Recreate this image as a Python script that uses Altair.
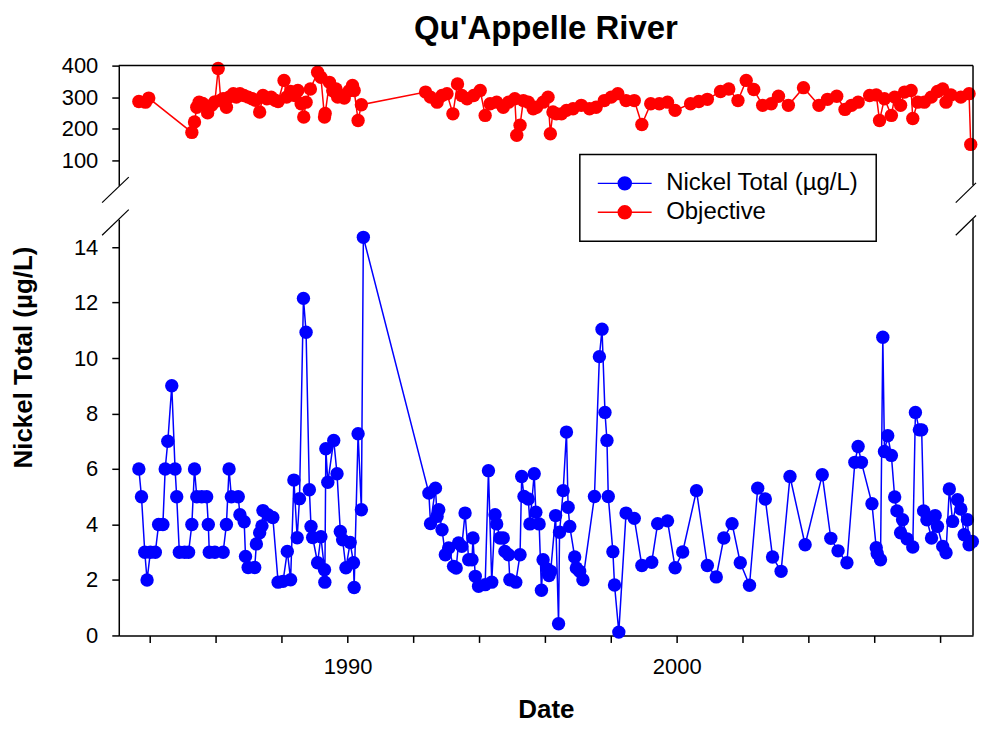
import altair as alt
import pandas as pd

# ---------------- data ----------------
nickel_year = [
    1983.66, 1983.74, 1983.84, 1983.91, 1984.01, 1984.16, 1984.26, 1984.39, 1984.46, 1984.54,
    1984.66, 1984.76, 1984.81, 1984.89, 1985.05, 1985.17, 1985.27, 1985.35, 1985.42, 1985.57,
    1985.72, 1985.77, 1985.80, 1985.97, 1986.22, 1986.32, 1986.40, 1986.47, 1986.68, 1986.73,
    1986.86, 1986.90, 1986.98, 1987.18, 1987.23, 1987.33, 1987.40, 1987.43, 1987.58, 1987.73,
    1987.89, 1988.04, 1988.17, 1988.27, 1988.37, 1988.47, 1988.54, 1988.66, 1988.74, 1988.84,
    1988.89, 1988.94, 1989.09, 1989.19, 1989.30, 1989.31, 1989.34, 1989.40, 1989.58, 1989.68,
    1989.78, 1989.85, 1989.95, 1990.08, 1990.18, 1990.20, 1990.32, 1990.42, 1990.48,
    1992.47, 1992.52, 1992.67, 1992.72, 1992.77, 1992.87, 1992.97, 1993.07, 1993.22, 1993.30,
    1993.37, 1993.47, 1993.57, 1993.68, 1993.78, 1993.81, 1993.88, 1993.98, 1994.18, 1994.28,
    1994.38, 1994.48, 1994.53, 1994.63, 1994.73, 1994.78, 1994.89, 1994.93, 1995.11, 1995.24,
    1995.29, 1995.36, 1995.49, 1995.54, 1995.67, 1995.72, 1995.82, 1995.89, 1995.94, 1996.06,
    1996.12, 1996.17, 1996.32, 1996.41, 1996.44, 1996.55, 1996.65, 1996.70, 1996.75, 1996.90,
    1996.95, 1997.05, 1997.15, 1997.50, 1997.65, 1997.73, 1997.82, 1997.88, 1997.92, 1998.06,
    1998.11, 1998.24, 1998.46, 1998.71, 1998.94, 1999.24, 1999.42, 1999.72, 1999.95, 2000.18,
    2000.60, 2000.93, 2001.20, 2001.43, 2001.68, 2001.93, 2002.21, 2002.46, 2002.69, 2002.91,
    2003.17, 2003.44, 2003.90, 2004.42, 2004.68, 2004.90, 2005.17, 2005.41, 2005.51, 2005.61,
    2005.93, 2006.06, 2006.09, 2006.19, 2006.26, 2006.31, 2006.41, 2006.52, 2006.62, 2006.69,
    2006.80, 2006.86, 2007.00, 2007.17, 2007.25, 2007.37, 2007.44, 2007.50, 2007.60, 2007.74,
    2007.85, 2007.92, 2008.08, 2008.18, 2008.28, 2008.38, 2008.53, 2008.63, 2008.73, 2008.83,
    2008.88, 2008.98,
]
nickel_value = [
    6.0, 5.0, 3.0, 2.0, 3.0, 3.0, 4.0, 4.0, 6.0, 7.0,
    9.0, 6.0, 5.0, 3.0, 3.0, 3.0, 4.0, 6.0, 5.0, 5.0,
    5.0, 4.0, 3.0, 3.0, 3.0, 4.0, 6.0, 5.0, 5.0, 4.35,
    4.1, 2.85, 2.45, 2.45, 3.3, 3.7, 3.95, 4.5, 4.35, 4.25,
    1.92, 1.95, 3.03, 2.01, 5.6, 3.52, 4.93, 12.15, 10.93, 5.25,
    3.93, 3.53, 2.62, 3.56, 2.37, 1.92, 6.73, 5.52, 7.03, 5.83,
    3.75, 3.45, 2.44, 3.35, 2.62, 1.73, 7.27, 4.53, 14.35,
    5.13, 4.03, 5.31, 4.29, 4.53, 3.81, 2.91, 3.15, 2.49, 2.43,
    3.33, 3.21, 4.41, 2.73, 2.73, 3.51, 2.13, 1.77, 1.83, 5.94,
    1.92, 4.35, 4.02, 3.51, 3.51, 3.03, 2.91, 2.01, 1.92, 2.91,
    5.73, 5.01, 4.92, 4.02, 5.83, 4.44, 4.02, 1.63, 2.73, 2.40,
    2.16, 2.31, 4.32, 0.42, 3.72, 5.22, 7.33, 4.62, 3.93, 2.83,
    2.43, 2.31, 2.01, 5.01, 10.05, 11.04, 8.04, 7.03, 5.01, 3.02,
    1.82, 0.12, 4.41, 4.22, 2.52, 2.64, 4.03, 4.13, 2.44, 3.01,
    5.22, 2.52, 2.11, 3.51, 4.03, 2.62, 1.81, 5.31, 4.92, 2.83,
    2.31, 5.73, 3.27, 5.79, 3.50, 3.05, 2.62, 6.24, 6.81, 6.24,
    4.75, 3.16, 2.95, 2.73, 10.75, 6.63, 7.20, 6.49, 4.99, 4.49,
    3.70, 4.17, 3.48, 3.19, 8.04, 7.41, 7.41, 4.49, 4.17, 3.51,
    4.32, 3.93, 3.21, 2.98, 5.28, 4.11, 4.89, 4.56, 3.63, 4.17,
    3.27, 3.39,
]

objective_year = [
    1983.66, 1983.86, 1983.96, 1985.27, 1985.35, 1985.42, 1985.49, 1985.60, 1985.75, 1985.87,
    1985.97, 1986.07, 1986.15, 1986.22, 1986.32, 1986.40, 1986.53, 1986.62, 1986.73, 1986.85,
    1986.98, 1987.10, 1987.20, 1987.33, 1987.43, 1987.55, 1987.68, 1987.80, 1987.89, 1988.07,
    1988.15, 1988.27, 1988.40, 1988.49, 1988.59, 1988.67, 1988.74, 1988.87, 1989.09, 1989.19,
    1989.30, 1989.32, 1989.45, 1989.55, 1989.65, 1989.70, 1989.80, 1989.90, 1990.05, 1990.15,
    1990.20, 1990.32, 1990.42,
    1992.37, 1992.52, 1992.72, 1992.87, 1993.02, 1993.20, 1993.34, 1993.47, 1993.63, 1993.83,
    1994.03, 1994.18, 1994.33, 1994.53, 1994.73, 1994.89, 1995.08, 1995.14, 1995.24, 1995.34,
    1995.49, 1995.64, 1995.74, 1995.94, 1996.09, 1996.16, 1996.24, 1996.34, 1996.50, 1996.65,
    1996.85, 1997.10, 1997.35, 1997.55, 1997.80, 1998.01, 1998.21, 1998.46, 1998.71, 1998.94,
    1999.21, 1999.47, 1999.72, 1999.95, 2000.42, 2000.67, 2000.93, 2001.33, 2001.58, 2001.86,
    2002.11, 2002.34, 2002.61, 2002.87, 2003.09, 2003.39, 2003.85, 2004.32, 2004.58, 2004.86,
    2005.11, 2005.31, 2005.51, 2005.86, 2006.06, 2006.16, 2006.31, 2006.52, 2006.62, 2006.80,
    2006.92, 2007.12, 2007.17, 2007.32, 2007.52, 2007.73, 2007.92, 2008.08, 2008.18, 2008.33,
    2008.63, 2008.88, 2008.93,
]
objective_value = [
    286, 284, 297, 188, 221, 268, 284, 280, 250, 274,
    285, 391, 290, 295, 268, 300, 311, 300, 311, 305,
    300, 295, 290, 253, 305, 295, 300, 290, 286, 353,
    300, 318, 305, 321, 279, 237, 284, 326, 379, 363,
    237, 248, 347, 320, 326, 300, 305, 297, 320, 337,
    321, 226, 276,
    316, 300, 284, 305, 311, 247, 342, 305, 295, 305,
    321, 242, 279, 284, 268, 284, 295, 179, 211, 289,
    284, 263, 268, 284, 300, 184, 253, 247, 247, 258,
    263, 274, 263, 268, 289, 300, 311, 289, 289, 213,
    279, 279, 284, 258, 279, 286, 293, 318, 326, 289,
    353, 324, 274, 279, 303, 274, 330, 274, 293, 303,
    261, 274, 284, 305, 307, 226, 295, 242, 300, 274,
    316, 321, 232, 284, 284, 300, 318, 326, 284, 307,
    300, 311, 150,
]

series_names = ["Nickel Total (µg/L)", "Objective"]
series_colors = ["#0000FF", "#FF0000"]
x_tick_values = [1984, 1986, 1988, 1990, 1992, 1994, 1996, 1998, 2000, 2002, 2004, 2006, 2008]
top_tick_values = [100, 200, 300, 400]
bottom_tick_values = [0, 2, 4, 6, 8, 10, 12, 14]

nickel_df = pd.DataFrame({"year": nickel_year, "value": nickel_value, "series": series_names[0]})
objective_df = pd.DataFrame({"year": objective_year, "value": objective_value, "series": series_names[1]})

# ---------------- layout / style ----------------
FONT = "Liberation Sans"
W = 856
H_TOP = 120
H_BOT = 417
X_DOMAIN = [1983.05, 2009.0]
TOP_DOMAIN = [20, 400]
BOT_DOMAIN = [0, 15]
POINT_SIZE = 180
LINE_W = 1.5

x_scale = alt.Scale(domain=X_DOMAIN, nice=False, zero=False)
top_y_scale = alt.Scale(domain=TOP_DOMAIN, nice=False, zero=False)
bot_y_scale = alt.Scale(domain=BOT_DOMAIN, nice=False, zero=False)
stroke_scale = alt.Scale(domain=series_names, range=series_colors)
fill_scale = alt.Scale(domain=series_names, range=series_colors)

legend_path = "M-1.57,0L6.14,0M1.36,0A0.93,0.93,0,1,1,3.22,0A0.93,0.93,0,1,1,1.36,0Z"
legend_def = alt.Legend(
    title=None, orient="none", legendX=462, legendY=-65,
    symbolType=legend_path, symbolSize=196, symbolStrokeWidth=1.5,
    labelFont=FONT, labelFontSize=24, labelColor="black", labelOffset=45.5, labelLimit=400,
    labelExpr="datum.label + '\u00a0'",
    padding=17, rowPadding=5, fillColor="white", strokeColor="black",
)


def frame_rule(x1, y1, x2, y2, width=1.5):
    """Decoration line given in pixels from a panel's origin (borders, axis-break slashes)."""
    return alt.Chart(alt.Data(values=[{"k": 0}])).mark_rule(color="black", strokeWidth=width).encode(
        x=alt.value(x1), y=alt.value(y1), x2=alt.value(x2), y2=alt.value(y2)
    )


# ---------------- top panel (Objective) ----------------
top_x = alt.X("year:Q", scale=x_scale, axis=alt.Axis(labels=False, ticks=False, domain=False, title=None, grid=False))
top_y = alt.Y("value:Q", scale=top_y_scale,
              axis=alt.Axis(values=top_tick_values, title=None, tickSize=7, labelPadding=14, grid=False))
top_base = alt.Chart(objective_df).encode(x=top_x, y=top_y)
top_line = top_base.mark_line(color="#FF0000", strokeWidth=LINE_W)
top_points = top_base.mark_point(filled=True, size=POINT_SIZE, opacity=1, color="#FF0000")

top_chart = alt.layer(
    top_line, top_points,
    frame_rule(0, 0, W, 0),          # top border
    frame_rule(W, 0, W, H_TOP),      # right border
).properties(
    width=W, height=H_TOP,
    title=alt.TitleParams("Qu'Appelle River", font=FONT, fontSize=33, fontWeight="bold",
                          color="black", anchor="middle", frame="group", offset=9),
)

# ---------------- bottom panel (Nickel) ----------------
bot_x = alt.X("year:Q", scale=x_scale,
              axis=alt.Axis(values=x_tick_values, format="d",
                            labelExpr="(datum.value == 1990 || datum.value == 2000) ? datum.label : ''",
                            title="Date", tickSize=7, labelPadding=14, titlePadding=19, grid=False))
bot_y = alt.Y("value:Q", scale=bot_y_scale,
              axis=alt.Axis(values=bottom_tick_values, title="Nickel Total (µg/L)", tickSize=7,
                            labelPadding=14, grid=False, titleX=-95, titleY=138, titleAngle=-90,
                            titleAlign="center", titleBaseline="middle"))
bot_base = alt.Chart(nickel_df).encode(x=bot_x, y=bot_y)
bot_line = bot_base.mark_line(strokeWidth=LINE_W).encode(
    stroke=alt.Stroke("series:N", scale=stroke_scale, legend=legend_def))
bot_points = bot_base.mark_point(filled=True, size=POINT_SIZE, opacity=1).encode(
    fill=alt.Fill("series:N", scale=fill_scale, legend=legend_def))

bot_chart = alt.layer(
    bot_line, bot_points,
    frame_rule(W, 0, W, H_BOT),                       # right border
    frame_rule(-16.7, -16.7, 10, -42.3, 1.2),         # axis-break slashes, left
    frame_rule(-16.7, 16, 10, -9.7, 1.2),
    frame_rule(W - 17.3, -16.7, W + 3, -36.5, 1.2),   # axis-break slashes, right
    frame_rule(W - 17.3, 16, W + 3, -3.8, 1.2),
).properties(width=W, height=H_BOT)

chart = (
    alt.vconcat(top_chart, bot_chart, spacing=34, bounds="flush")
    .resolve_legend(fill="independent", stroke="independent")
    .properties(padding={"left": 2, "top": 4, "right": 0, "bottom": 0})
    .configure(font=FONT)
    .configure_view(stroke=None)
    .configure_axis(labelFont=FONT, titleFont=FONT, labelFontSize=22, titleFontSize=26,
                    titleFontWeight="bold", labelColor="black", titleColor="black",
                    domainColor="black", tickColor="black", domainWidth=1.5, tickWidth=1.5)
    .configure_legend(strokeWidth=1.5)
)

chart.save("out.html", embed_options={"renderer": "svg", "actions": False})
